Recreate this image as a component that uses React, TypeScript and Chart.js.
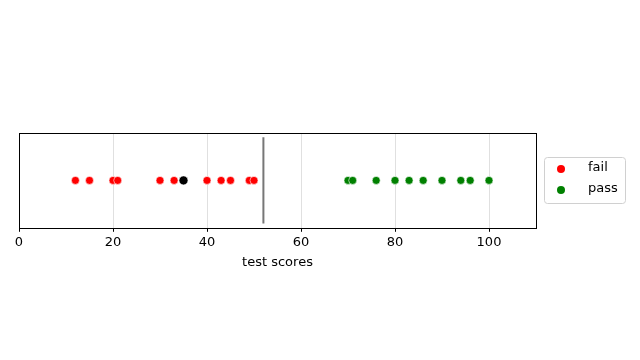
import React, { useEffect, useRef } from "react";
import { Chart, registerables } from "chart.js";

Chart.register(...registerables);

const failScores = [12, 15, 20, 21, 30, 33, 40, 43, 45, 49, 50];
const passScores = [70, 71, 76, 80, 83, 86, 90, 94, 96, 100];
const highlightScore = [35];
const thresholdScore = 52;
const xTicks = [0, 20, 40, 60, 80, 100];
const seriesLabels = ["fail", "pass"];
const seriesColors = ["#ff0000", "#008000"];

const FONT = "'DejaVu Sans', sans-serif";

const frameAndLegend = {
  id: "frameAndLegend",
  afterDraw(chart: any) {
    const { ctx, chartArea } = chart;
    ctx.save();
    ctx.strokeStyle = "#000";
    ctx.lineWidth = 1;
    ctx.strokeRect(
      Math.round(chartArea.left) + 0.5,
      Math.round(chartArea.top) + 0.5,
      Math.round(chartArea.right - chartArea.left),
      Math.round(chartArea.bottom - chartArea.top)
    );
    // legend
    const items = chart.data.datasets.filter((d: any) => seriesLabels.includes(d.label));
    const bx = Math.round(chartArea.right) + 8;
    const cy = (chartArea.top + chartArea.bottom) / 2;
    const bw = 81;
    const bh = 46;
    const by = Math.round(cy - bh / 2);
    ctx.beginPath();
    const r = 3;
    ctx.moveTo(bx + r + 0.5, by + 0.5);
    ctx.arcTo(bx + bw + 0.5, by + 0.5, bx + bw + 0.5, by + bh + 0.5, r);
    ctx.arcTo(bx + bw + 0.5, by + bh + 0.5, bx + 0.5, by + bh + 0.5, r);
    ctx.arcTo(bx + 0.5, by + bh + 0.5, bx + 0.5, by + 0.5, r);
    ctx.arcTo(bx + 0.5, by + 0.5, bx + bw + 0.5, by + 0.5, r);
    ctx.closePath();
    ctx.fillStyle = "rgba(255,255,255,0.8)";
    ctx.fill();
    ctx.strokeStyle = "#d0d0d0";
    ctx.stroke();
    ctx.font = `13px ${FONT}`;
    ctx.textBaseline = "middle";
    ctx.textAlign = "left";
    items.forEach((d: any, i: number) => {
      const y = by + 12 + i * 21;
      ctx.beginPath();
      ctx.arc(bx + 17, y, 4, 0, Math.PI * 2);
      ctx.fillStyle = d.backgroundColor;
      ctx.fill();
      ctx.fillStyle = "#000";
      ctx.fillText(d.label, bx + 44, y - 1);
    });
    ctx.restore();
  },
};

export default function App() {
  const ref = useRef<HTMLCanvasElement>(null);
  useEffect(() => {
    if (!ref.current) return;
    const pointStyle = (color: string) => ({
      type: "scatter" as const,
      backgroundColor: color,
      borderColor: "#ffffff",
      borderWidth: 0.6,
      pointRadius: 4,
      pointHoverRadius: 4,
    });
    const chart = new Chart(ref.current, {
      type: "scatter",
      data: {
        datasets: [
          {
            label: seriesLabels[0],
            data: failScores.map((x) => ({ x, y: 0 })),
            ...pointStyle(seriesColors[0]),
          },
          {
            label: seriesLabels[1],
            data: passScores.map((x) => ({ x, y: 0 })),
            ...pointStyle(seriesColors[1]),
          },
          {
            label: "highlight",
            data: highlightScore.map((x) => ({ x, y: 0 })),
            ...pointStyle("#000000"),
            pointRadius: 4.5,
          },
          {
            label: "threshold",
            type: "line" as any,
            data: [
              { x: thresholdScore, y: -0.91 },
              { x: thresholdScore, y: 0.91 },
            ],
            borderColor: "#777777",
            borderWidth: 2,
            pointRadius: 0,
            showLine: true,
            fill: false,
          } as any,
        ],
      },
      options: {
        animation: false,
        responsive: false,
        layout: { padding: { left: 19, top: 133, right: 104, bottom: 86 } },
        plugins: {
          legend: { display: false },
          tooltip: { enabled: false },
        },
        scales: {
          x: {
            type: "linear",
            min: 0,
            max: 110,
            afterBuildTicks: (scale: any) => {
              scale.ticks = xTicks.map((v) => ({ value: v }));
            },
            ticks: {
              includeBounds: false,
              color: "#000",
              font: { family: FONT, size: 13 },
              padding: 3,
            },
            grid: {
              color: "#e0e0e0",
              lineWidth: 1,
              tickLength: 4,
              tickColor: "#000",
            },
            border: { display: false },
            title: {
              display: true,
              text: "test scores",
              color: "#000",
              font: { family: FONT, size: 13 },
              padding: { top: 1, bottom: 4 },
            },
          },
          y: {
            display: false,
            min: -1,
            max: 1,
          },
        },
      },
      plugins: [frameAndLegend],
    });
    return () => chart.destroy();
  }, []);
  return (
    <div style={{ position: "absolute", left: 0, top: 0, width: 640, height: 360, background: "#fff" }}>
      <canvas ref={ref} width={640} height={360} style={{ display: "block" }} />
    </div>
  );
}
